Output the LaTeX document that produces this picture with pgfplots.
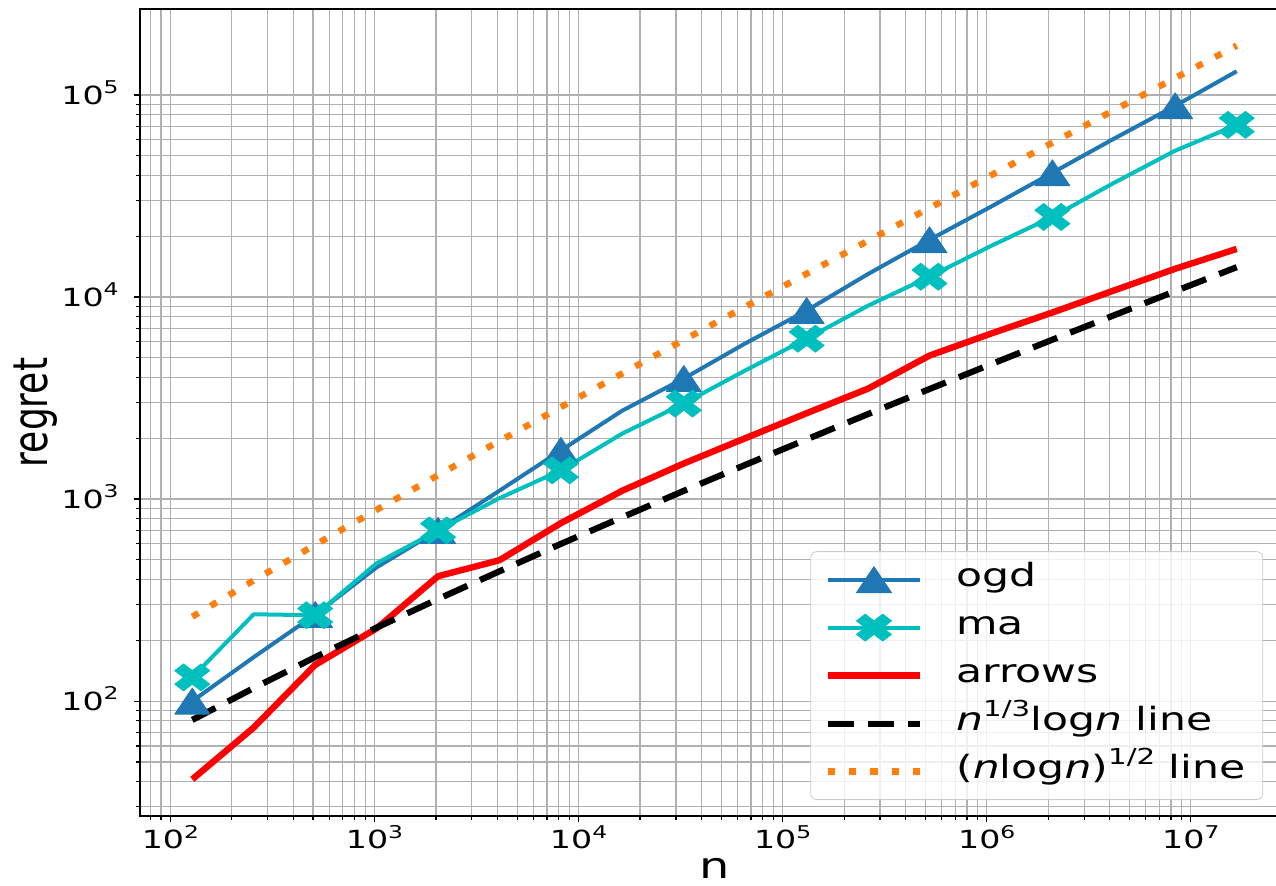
\documentclass[border=0pt]{standalone}
\usepackage{fontspec}
\setmainfont{DejaVu Sans}[FakeStretch=1.33]
\newfontfamily\plainfont{DejaVu Sans}
\usepackage{graphicx}
\usepackage{pgfplots}
\usepackage{pgfplotstable}
\pgfplotsset{compat=1.18}

\definecolor{ogdblue}{HTML}{1F77B4}
\definecolor{macyan}{HTML}{00BFBF}
\definecolor{sqorange}{HTML}{FF7F0E}
\definecolor{gridgray}{HTML}{B0B0B0}

\newcommand\tickfont{\fontsize{12.5}{12.5}\selectfont}
\newcommand\ticksup[1]{\raisebox{0.42em}{\fontsize{8.8}{8.8}\selectfont #1}}
\newcommand\legfont{\fontsize{16}{16}\selectfont}
\newcommand\legsup[1]{\raisebox{0.45em}{\fontsize{11}{11}\selectfont #1}}

% markers, drawn wider than tall like the reference
\pgfdeclareplotmark{mtri}{%
  \pgfpathmoveto{\pgfqpoint{0pt}{6.5pt}}%
  \pgfpathlineto{\pgfqpoint{-8.75pt}{-6.5pt}}%
  \pgfpathlineto{\pgfqpoint{8.75pt}{-6.5pt}}%
  \pgfpathclose
  \pgfusepathqfillstroke}
\pgfdeclareplotmark{mx}{%
  \pgfpathmoveto{\pgfqpoint{-4.375pt}{-6.75pt}}%
  \pgfpathlineto{\pgfqpoint{0pt}{-3.375pt}}%
  \pgfpathlineto{\pgfqpoint{4.375pt}{-6.75pt}}%
  \pgfpathlineto{\pgfqpoint{8.75pt}{-3.375pt}}%
  \pgfpathlineto{\pgfqpoint{4.375pt}{0pt}}%
  \pgfpathlineto{\pgfqpoint{8.75pt}{3.375pt}}%
  \pgfpathlineto{\pgfqpoint{4.375pt}{6.75pt}}%
  \pgfpathlineto{\pgfqpoint{0pt}{3.375pt}}%
  \pgfpathlineto{\pgfqpoint{-4.375pt}{6.75pt}}%
  \pgfpathlineto{\pgfqpoint{-8.75pt}{3.375pt}}%
  \pgfpathlineto{\pgfqpoint{-4.375pt}{0pt}}%
  \pgfpathlineto{\pgfqpoint{-8.75pt}{-3.375pt}}%
  \pgfpathclose
  \pgfusepathqfillstroke}

\pgfplotstableread{
n        ogd    ma     arrows lin    sqr
128      100    131    41     80.7   261.7
256      165    269    74     116    395.6
512      268    266    151    165    593.4
1024     459    481    229    231    884.6
2048     700    700    415    320    1312
4096     1100   1010   498    439    1938
8192     1740   1387   760    600    2853
16384    2740   2110   1100   813    4187
32768    3950   2970   1500   1098   6129
65536    5890   4330   2000   1476   8951
131072   8570   6220   2660   1975   13047
262144   13000  9060   3520   2635   18992
524288   19200  12600  5130   3504   27591
1048576  28000  17900  6590   4647   40029
2097152  41200  24900  8380   6149   58021
4194304  60700  36700  10770  8115   83976
8388608  88400  53000  13800  10690  121416
16777216 131000 71100  17300  14050  175439
}\regret

\begin{document}
\begin{tikzpicture}
\begin{axis}[
  at={(0,0)}, anchor=south west,
  scale only axis, width=574.5pt, height=403.5pt,
  xmode=log, ymode=log, log basis x=10, log basis y=10,
  xmin=70.96, xmax=3.027e7, ymin=27.0, ymax=2.664e5,
  grid=both,
  major grid style={draw=gridgray, line width=0.6pt},
  minor grid style={draw=gridgray, line width=0.6pt},
  axis line style={line width=0.7pt},
  tick align=outside, major tick length=3pt, minor tick length=1.8pt,
  tick style={black, line width=0.6pt},
  xtick pos=left, ytick pos=left,
  xticklabel={\tickfont 10\ticksup{\pgfmathtruncatemacro\e{\tick+0.5}\e}},
  yticklabel={\tickfont 10\ticksup{\pgfmathtruncatemacro\e{\tick+0.5}\e}},
  xticklabel style={anchor=base, inner sep=0pt, yshift=-13.5pt},
  yticklabel style={anchor=base east, inner sep=0pt, xshift=-7.5pt, yshift=-4.55pt},
  xlabel={\fontsize{18}{18}\selectfont n},
  xlabel style={at={(axis description cs:0.5,-0.077)}, anchor=base, inner sep=0pt},
  ylabel={\scalebox{1}[1.33]{\plainfont\fontsize{18}{18}\selectfont regret}},
  ylabel style={at={(axis description cs:-0.0905,0.5)}, anchor=center, inner sep=0pt},
  legend image code/.code={\draw[opacity=1, #1, mark indices={2}]
    plot coordinates {(0pt,0pt) (23pt,0pt) (46pt,0pt)};},
  legend cell align=left,
  legend style={at={(rel axis cs:0.9774,0.0198)}, anchor=south east,
    draw=black!20, rounded corners=3pt, fill=white, fill opacity=0.8,
    draw opacity=1, text opacity=1, font=\legfont,
    inner xsep=7pt, inner ysep=6.5pt, row sep=9pt, column sep=15pt,
    nodes={inner xsep=1.5pt, inner ysep=0pt, text height=11pt, text depth=4pt}},
]
\addplot[ogdblue, line width=2pt, line join=round, mark=mtri,
  mark indices={1,3,5,7,9,11,13,15,17}, mark options={solid, line width=0.4pt}]
  table[x=n, y=ogd] {\regret};
\addlegendentry{ogd}
\addplot[macyan, line width=2pt, line join=round, mark=mx,
  mark indices={1,3,5,7,9,11,13,15,18}, mark options={solid, line width=0.4pt}]
  table[x=n, y=ma] {\regret};
\addlegendentry{ma}
\addplot[red, line width=3.2pt, line join=round] table[x=n, y=arrows] {\regret};
\addlegendentry{arrows}
\addplot[black, line width=3.1pt, dash pattern=on 13pt off 7pt] table[x=n, y=lin] {\regret};
\addlegendentry{\textit{n}\legsup{1/3}log\textit{n} line}
\addplot[sqorange, line width=3.2pt, dash pattern=on 3.6pt off 7pt] table[x=n, y=sqr] {\regret};
\addlegendentry{(\textit{n}log\textit{n})\legsup{1/2} line}
\end{axis}
\pgfresetboundingbox
\path[use as bounding box] (-70pt,-34.5pt) rectangle (568pt,408pt);
\end{tikzpicture}
\end{document}
